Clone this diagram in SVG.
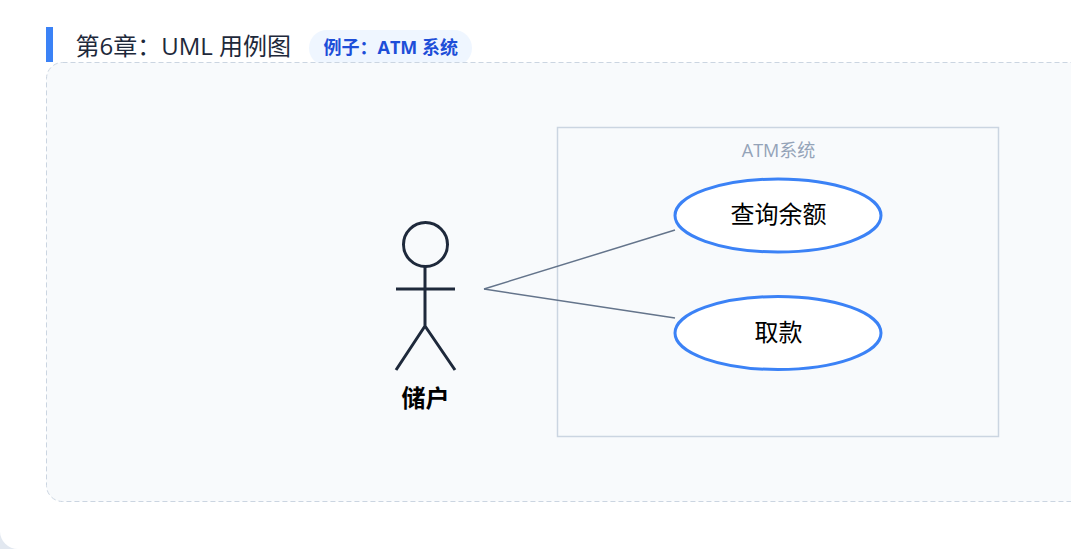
<svg xmlns="http://www.w3.org/2000/svg" width="1071" height="549" viewBox="0 0 1071 549">
<style>
text{font-family:"Open Sans","Noto Sans CJK SC",sans-serif}
.uc{fill:#fff;stroke:#3b82f6;stroke-width:3}
.ucl{font-size:24px;fill:#000;text-anchor:middle}
.act{fill:none;stroke:#1e293b;stroke-width:3}
.con{stroke:#64748b;stroke-width:1.5;fill:none}
</style>
<rect width="1071" height="549" fill="#e2e8f0"/>
<path d="M0 0H1071V549H18A18 18 0 0 1 0 531Z" fill="#fff"/>
<g id="header">
<rect x="46" y="27" width="7" height="35" fill="#3b82f6"/>
<text x="75.500" y="55" font-size="24" fill="#1e293b">第6章：UML 用例图</text>
<rect x="309" y="30" width="163" height="36" rx="18" fill="#eff6ff"/>
<text x="323.500" y="54" font-size="18" font-weight="700" fill="#1d4ed8">例子：ATM 系统</text>
</g>
<g id="canvas">
<rect x="46.500" y="62.500" width="1060" height="439" rx="16" fill="#f8fafc" stroke="#cbd5e1" stroke-dasharray="5 3"/>
</g>
<g id="system">
<rect x="557.500" y="127.500" width="441" height="309" fill="none" stroke="#cbd5e1" stroke-width="1.500"/>
<text x="778.500" y="157" font-size="18" fill="#94a3b8" text-anchor="middle">ATM系统</text>
</g>
<g id="connectors">
<line class="con" x1="484" y1="289" x2="675" y2="230"/>
<line class="con" x1="484" y1="289" x2="675" y2="318"/>
</g>
<g id="actor">
<circle class="act" cx="425.500" cy="244.500" r="22"/>
<path class="act" d="M425 267V326M396 289H455M425 326L396 370M425 326L455 370"/>
<text x="425.500" y="407" font-size="24" font-weight="700" fill="#000" text-anchor="middle">储户</text>
</g>
<g id="uc1">
<ellipse class="uc" cx="778" cy="215.500" rx="103" ry="36.500"/>
<text class="ucl" x="778.500" y="223">查询余额</text>
</g>
<g id="uc2">
<ellipse class="uc" cx="778" cy="333" rx="103" ry="36.500"/>
<text class="ucl" x="778.500" y="341">取款</text>
</g>
</svg>
